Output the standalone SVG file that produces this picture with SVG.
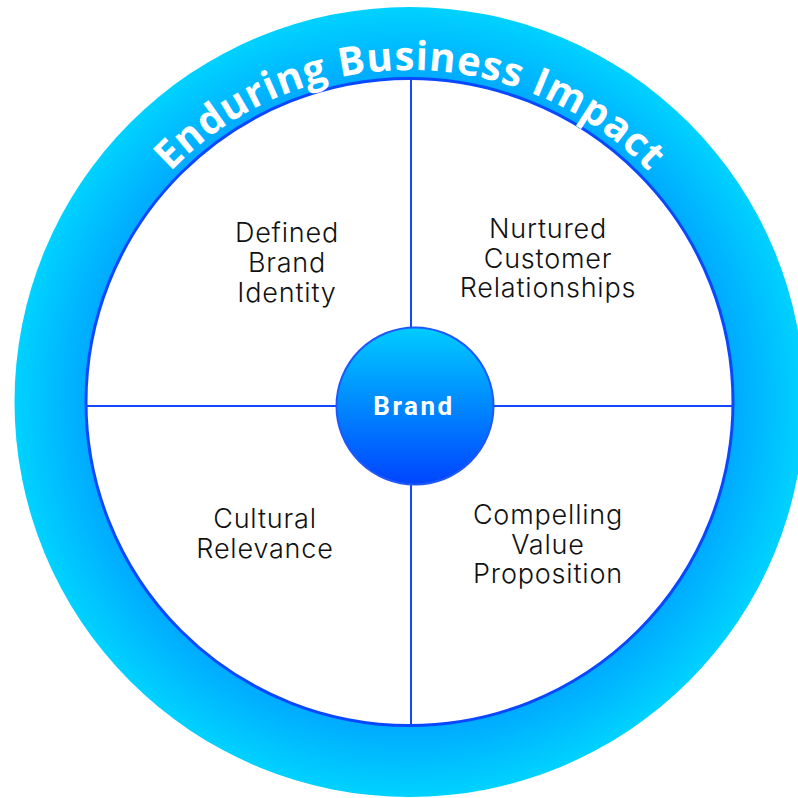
<svg xmlns="http://www.w3.org/2000/svg" width="798" height="798" viewBox="0 0 798 798">
  <defs>
    <radialGradient id="ringFill" gradientUnits="userSpaceOnUse" cx="409.5" cy="402" r="395">
      <stop offset="0.8" stop-color="#00A6FF"/>
      <stop offset="1" stop-color="#00D2FF"/>
    </radialGradient>
    <linearGradient id="hubFill" x1="0" y1="0" x2="0" y2="1">
      <stop offset="0" stop-color="#00CCFF"/>
      <stop offset="1" stop-color="#0044FF"/>
    </linearGradient>
    <path id="titleArc" d="M 77.5 402 A 332 332 0 0 1 741.5 402"/>
    <style>
      .divider { stroke: #1448FF; stroke-width: 2; fill: none; }
      .label { font-family: Inter, "Liberation Sans", sans-serif; font-weight: 300; font-size: 27px; letter-spacing: 0.8px; fill: #111111; text-anchor: middle; }
      .title { font-family: "Open Sans", "Liberation Sans", sans-serif; font-weight: 700; font-size: 40px; fill: #FFFFFF; }
      .hub-text { font-family: Roboto, "Liberation Sans", sans-serif; font-weight: 700; font-size: 26px; letter-spacing: 2.5px; fill: #FFFFFF; text-anchor: middle; }
    </style>
  </defs>

  <!-- outer ring with white face -->
  <g id="ring">
    <circle cx="409.5" cy="402" r="395" fill="url(#ringFill)"/>
    <circle cx="409.5" cy="402" r="323.5" fill="#FFFFFF" stroke="#0A48FF" stroke-width="3"/>
    <text class="title"><textPath href="#titleArc" startOffset="50%" text-anchor="middle" textLength="534" lengthAdjust="spacing">Enduring Business Impact</textPath></text>
  </g>

  <!-- quadrant dividers -->
  <g id="connectors">
    <line class="divider" x1="411" y1="79" x2="411" y2="725"/>
    <line class="divider" x1="86" y1="406" x2="733" y2="406"/>
  </g>

  <g id="defined-brand-identity">
    <text class="label" x="287" y="242">Defined</text>
    <text class="label" x="287" y="272">Brand</text>
    <text class="label" x="287" y="302">Identity</text>
  </g>

  <g id="nurtured-customer-relationships">
    <text class="label" x="548" y="238">Nurtured</text>
    <text class="label" x="548" y="268">Customer</text>
    <text class="label" x="548" y="297">Relationships</text>
  </g>

  <g id="cultural-relevance">
    <text class="label" x="265" y="528">Cultural</text>
    <text class="label" x="265" y="558">Relevance</text>
  </g>

  <g id="compelling-value-proposition">
    <text class="label" x="548" y="524">Compelling</text>
    <text class="label" x="548" y="554">Value</text>
    <text class="label" x="548" y="583">Proposition</text>
  </g>

  <g id="brand">
    <circle cx="415" cy="406" r="78.5" fill="url(#hubFill)" stroke="#1D58FF" stroke-width="2"/>
    <text class="hub-text" x="414" y="415">Brand</text>
  </g>
</svg>
